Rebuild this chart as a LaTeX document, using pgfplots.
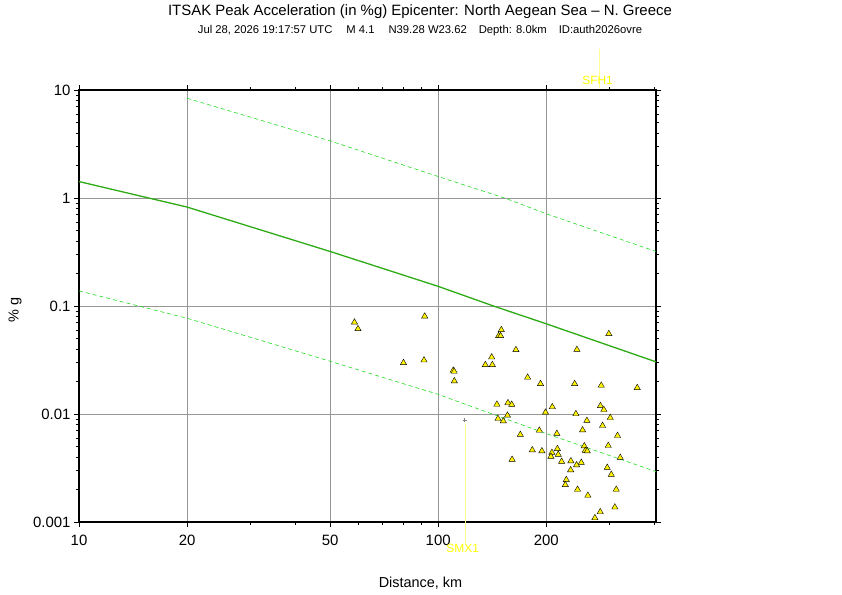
\documentclass[border=0pt]{standalone}
\usepackage{fontspec}
\setmainfont{Liberation Sans}
\usepackage{pgfplots}
\pgfplotsset{compat=1.18}
\definecolor{midgreen}{RGB}{45,170,20}
\definecolor{dashgreen}{RGB}{30,220,30}
\definecolor{gridgray}{RGB}{150,150,150}
\definecolor{labelyellow}{RGB}{255,255,0}
\definecolor{paleyellow}{RGB}{255,255,150}
\begin{document}
\begin{tikzpicture}
\useasboundingbox (0bp,0bp) rectangle (842bp,595bp);
\node[font=\fontsize{15}{15}\selectfont] at (420bp,583bp) {ITSAK Peak Acceleration (in \%g) Epicenter: North Aegean Sea – N. Greece};
\node[font=\fontsize{11.3}{11.3}\selectfont] at (420bp,564bp) {Jul 28, 2026 19:17:57 UTC\hspace{14bp}M 4.1\hspace{14bp}N39.28 W23.62\hspace{12bp}Depth: 8.0km\hspace{12bp}ID:auth2026ovre};
\begin{axis}[
  at={(79bp,73bp)}, anchor=south west, scale only axis,
  width=577bp, height=432bp,
  xmode=log, ymode=log,
  xmin=10, xmax=404, ymin=0.001, ymax=10,
  clip=false,
  axis line style={line width=2bp, black},
  tick align=outside,
  major tick length=5bp, minor tick length=3bp,
  every tick/.style={black, line width=0.6bp},
  xtick={10,20,50,100,200}, xticklabels={10,20,50,100,200},
  minor xtick={30,40,60,70,80,90,300,400},
  ytick={0.001,0.01,0.1,1,10}, yticklabels={0.001,0.01,0.1,1,10},
  minor ytick={0.002,0.003,0.004,0.005,0.006,0.007,0.008,0.009,0.02,0.03,0.04,0.05,0.06,0.07,0.08,0.09,0.2,0.3,0.4,0.5,0.6,0.7,0.8,0.9,2,3,4,5,6,7,8,9},
  grid=major,
  major grid style={gridgray, line width=0.5bp},
  ticklabel style={font=\fontsize{15}{15}\selectfont},
  xticklabel style={yshift=-5bp},
]
\addplot[midgreen, line width=1.3bp] coordinates {(10,1.42) (20,0.824) (50,0.320) (100,0.152) (142.5,0.1) (200,0.0684) (404,0.0304)};
\addplot[dashgreen, line width=0.6bp, dash pattern=on 4bp off 3bp] coordinates {(20,8.38) (50,3.38) (100,1.58) (153,1.0) (200,0.714) (404,0.32)};
\addplot[dashgreen, line width=0.6bp, dash pattern=on 4bp off 3bp] coordinates {(10,0.138) (20,0.077) (50,0.0308) (100,0.0152) (200,0.00658) (404,0.00293)};
\draw[paleyellow, line width=0.3bp] (axis cs:118.5,0.0083) -- (axis cs:118.5,0.00062);
\addplot[only marks, mark=+, mark size=2bp, gray] coordinates {(118.5,0.00873)};
\draw[paleyellow, line width=0.3bp] (axis cs:281.3,23.9) -- (axis cs:281.3,10.4);
\node[labelyellow, font=\fontsize{12}{12}\selectfont] at (axis cs:117,0.000575) {SMX1};
\node[labelyellow, font=\fontsize{12}{12}\selectfont] at (axis cs:277.8,12.4) {SFH1};
\addplot[only marks, mark=triangle*, mark size=3.6bp, mark options={fill=yellow, draw=black, line width=0.4bp}] coordinates {
(58.47,0.0707) (59.8,0.0614) (91.7,0.0803) (80.05,0.0298) (91.3,0.0315)
(110.1,0.0253) (110.8,0.0248) (110.9,0.0202) (149.9,0.0601) (147.3,0.0529)
(149.2,0.0529) (164.6,0.0393) (140.9,0.0336) (135.3,0.02855) (141.5,0.02855)
(177.4,0.0218) (192.7,0.01905) (145.7,0.01227) (156.4,0.01267) (160.2,0.01222)
(199.0,0.01035) (155.9,0.00971) (146.7,0.00905) (151.8,0.0086) (298.6,0.0553)
(243.3,0.0395) (239.8,0.01905) (284.4,0.01838) (358.2,0.0175) (207.8,0.01163)
(282.9,0.0119) (289.2,0.01096) (241.7,0.01002) (259.4,0.00869) (301.3,0.00924)
(191.2,0.00705) (169.3,0.00644) (214.0,0.00659) (182.8,0.00464) (194.4,0.00454)
(160.6,0.00379) (207.3,0.00439) (206.0,0.00404) (214.7,0.00476) (215.9,0.00421)
(220.6,0.00363) (227.3,0.00246) (225.9,0.00221) (286.8,0.0078) (252.3,0.0071)
(315.7,0.0063) (255.1,0.00505) (297.5,0.00509) (256.7,0.00458) (260.0,0.00454)
(234.1,0.00367) (250.2,0.00355) (242.8,0.00337) (321.2,0.00395) (233.7,0.00303)
(295.6,0.00319) (303.3,0.00275) (244.3,0.0020) (313.1,0.0020) (261.0,0.00176)
(310.3,0.00137) (282.6,0.00124) (273.0,0.00109)
};
\end{axis}
\node[font=\fontsize{14.5}{14.5}\selectfont] at (420.5bp,12bp) {Distance, km};
\node[font=\fontsize{14.5}{14.5}\selectfont, rotate=90] at (15bp,285bp) {\% g};
\end{tikzpicture}
\end{document}
